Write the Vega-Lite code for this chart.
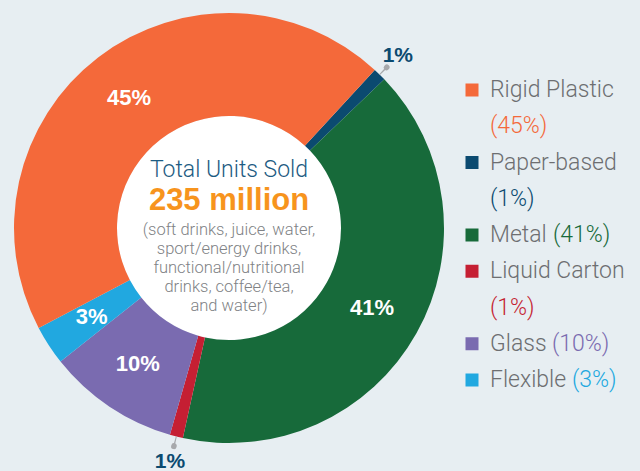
{
  "$schema": "https://vega.github.io/schema/vega-lite/v6.json",
  "background": "#e7eef2",
  "padding": 0,
  "spacing": 14,
  "bounds": "flush",
  "config": {"view": {"stroke": null}, "font": "Roboto"},
  "datasets": {
    "shares": [
      {"category": "Paper-based", "ord": 1, "pct": 1, "label": "1%"},
      {"category": "Metal", "ord": 2, "pct": 41, "label": "41%"},
      {"category": "Liquid Carton", "ord": 3, "pct": 1, "label": "1%"},
      {"category": "Glass", "ord": 4, "pct": 10, "label": "10%"},
      {"category": "Flexible", "ord": 5, "pct": 3, "label": "3%"},
      {"category": "Rigid Plastic", "ord": 6, "pct": 45, "label": "45%"}
    ],
    "center": [
      {"title": "Total Units Sold", "total": "235 million", "note": "(soft drinks, juice, water,\nsport/energy drinks,\nfunctional/nutritional\ndrinks, coffee/tea,\nand water)"}
    ],
    "legend": [
      {"category": "Rigid Plastic", "line": 1, "name": "Rigid Plastic", "pct": "", "swatch": true},
      {"category": "Rigid Plastic", "line": 2, "name": "", "pct": "(45%)", "swatch": false},
      {"category": "Paper-based", "line": 3, "name": "Paper-based", "pct": "", "swatch": true},
      {"category": "Paper-based", "line": 4, "name": "", "pct": "(1%)", "swatch": false},
      {"category": "Metal", "line": 5, "name": "Metal", "pct": "(41%)", "swatch": true},
      {"category": "Liquid Carton", "line": 6, "name": "Liquid Carton", "pct": "", "swatch": true},
      {"category": "Liquid Carton", "line": 7, "name": "", "pct": "(1%)", "swatch": false},
      {"category": "Glass", "line": 8, "name": "Glass", "pct": "(10%)", "swatch": true},
      {"category": "Flexible", "line": 9, "name": "Flexible", "pct": "(3%)", "swatch": true}
    ]
  },
  "hconcat": [
    {
      "width": 458,
      "height": 452,
      "layer": [
        {
          "data": {"name": "center"},
          "mark": {"type": "arc", "outerRadius": 112, "innerRadius": 0, "theta": 0, "theta2": 6.2832, "color": "#ffffff"}
        },
        {
          "data": {"name": "shares"},
          "mark": {"type": "arc", "outerRadius": 215, "innerRadius": 112},
          "encoding": {
            "theta": {"field": "pct", "type": "quantitative", "stack": true, "scale": {"range": [0.745, 7.0282]}},
            "order": {"field": "ord", "type": "quantitative"},
            "detail": {"field": "category", "type": "nominal"},
            "color": {
              "field": "category", "type": "nominal", "legend": null,
              "scale": {
                "domain": ["Rigid Plastic", "Paper-based", "Metal", "Liquid Carton", "Glass", "Flexible"],
                "range": ["#f4693a", "#0b4a70", "#176a3a", "#c51f33", "#7a6bb0", "#21a8e0"]
              }
            }
          }
        },
        {
          "data": {"name": "shares"},
          "mark": {"type": "arc", "outerRadius": 224, "innerRadius": 215, "padAngle": 0.0401, "color": "#a7a9ac"},
          "encoding": {
            "theta": {"field": "pct", "type": "quantitative", "stack": true},
            "order": {"field": "ord", "type": "quantitative"},
            "detail": {"field": "category", "type": "nominal"},
            "opacity": {"condition": {"test": "datum.pct <= 1", "value": 1}, "value": 0}
          }
        },
        {
          "data": {"name": "shares"},
          "mark": {"type": "arc", "outerRadius": 228, "innerRadius": 222, "padAngle": 0.0267, "cornerRadius": 3, "color": "#a7a9ac"},
          "encoding": {
            "theta": {"field": "pct", "type": "quantitative", "stack": true},
            "order": {"field": "ord", "type": "quantitative"},
            "detail": {"field": "category", "type": "nominal"},
            "opacity": {"condition": {"test": "datum.pct <= 1", "value": 1}, "value": 0}
          }
        },
        {
          "data": {"name": "shares"},
          "mark": {"type": "text", "radius": 164, "fontSize": 22, "fontWeight": "bold", "font": "Liberation Sans", "color": "#ffffff"},
          "encoding": {
            "theta": {"field": "pct", "type": "quantitative", "stack": true},
            "order": {"field": "ord", "type": "quantitative"},
            "detail": {"field": "category", "type": "nominal"},
            "text": {"condition": {"test": "datum.pct > 1", "field": "label", "type": "nominal"}, "value": ""}
          }
        },
        {
          "data": {"name": "shares"},
          "mark": {"type": "text", "radius": 241, "fontSize": 21, "fontWeight": "bold", "font": "Liberation Sans", "color": "#0b4a70"},
          "encoding": {
            "theta": {"field": "pct", "type": "quantitative", "stack": true},
            "order": {"field": "ord", "type": "quantitative"},
            "detail": {"field": "category", "type": "nominal"},
            "text": {"condition": {"test": "datum.pct <= 1", "field": "label", "type": "nominal"}, "value": ""}
          }
        },
        {
          "data": {"name": "center"},
          "mark": {"type": "text", "dy": -58, "fontSize": 23, "fontWeight": 300, "color": "#1d5b82"},
          "encoding": {"text": {"field": "title", "type": "nominal"}}
        },
        {
          "data": {"name": "center"},
          "mark": {"type": "text", "dy": -27, "fontSize": 31, "fontWeight": "bold", "font": "Liberation Sans", "color": "#f7941d"},
          "encoding": {"text": {"field": "total", "type": "nominal"}}
        },
        {
          "data": {"name": "center"},
          "mark": {"type": "text", "baseline": "top", "dy": -6, "fontSize": 16.5, "lineHeight": 19, "lineBreak": "\n", "fontWeight": 300, "color": "#808285"},
          "encoding": {"text": {"field": "note", "type": "nominal"}}
        }
      ]
    },
    {
      "width": 168,
      "height": 471,
      "data": {"name": "legend"},
      "encoding": {
        "y": {"field": "line", "type": "ordinal", "scale": {"type": "point", "range": [88, 378], "padding": 0}, "axis": null},
        "x": {"datum": "label", "type": "nominal", "scale": {"type": "point", "domain": ["swatch", "label"], "range": [0, 18], "padding": 0}, "axis": null}
      },
      "layer": [
        {
          "transform": [{"filter": "datum.swatch"}],
          "mark": {"type": "point", "shape": "square", "filled": true, "size": 169, "opacity": 1},
          "encoding": {
            "x": {"datum": "swatch", "type": "nominal"},
            "color": {
              "field": "category", "type": "nominal", "legend": null,
              "scale": {
                "domain": ["Rigid Plastic", "Paper-based", "Metal", "Liquid Carton", "Glass", "Flexible"],
                "range": ["#f4693a", "#0b4a70", "#176a3a", "#c51f33", "#7a6bb0", "#21a8e0"]
              }
            }
          }
        },
        {
          "mark": {"type": "text", "align": "left", "baseline": "middle", "fontSize": 23, "fontWeight": 300, "color": "#6d6e71"},
          "encoding": {
            "text": {"field": "name", "type": "nominal"}
          }
        },
        {
          "mark": {
            "type": "text", "align": "left", "baseline": "middle", "fontSize": 23, "fontWeight": 300,
            "dx": {"expr": "datum.category === 'Metal' ? 63 : datum.category === 'Glass' ? 62 : datum.category === 'Flexible' ? 82 : 0"}
          },
          "encoding": {
            "text": {"field": "pct", "type": "nominal"},
            "color": {"field": "category", "type": "nominal", "legend": null}
          }
        }
      ]
    }
  ]
}
